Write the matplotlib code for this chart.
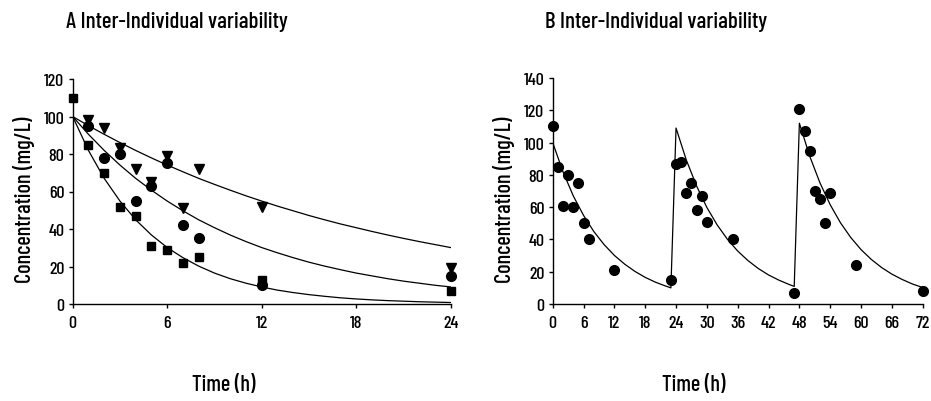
import matplotlib
matplotlib.use('Agg')
import matplotlib.pyplot as plt

# panel A: three individuals, single dose
timeA = [0, 1, 2, 3, 4, 5, 6, 7, 8, 12, 24]
conc_sq = [110, 85, 70, 52, 47, 31, 29, 22, 25, 13, 7]
# circles and triangles: no visible point at t=0 (hidden by the square)
timeA2 = [1, 2, 3, 4, 5, 6, 7, 8, 12, 24]
conc_ci = [95, 78, 80, 55, 63, 75, 42, 35, 10, 15]
conc_tr = [98, 94, 83, 72, 65, 79, 51, 72, 52, 19]

# fitted curves
fitA_t = list(range(0, 25))
fit_slow = [100, 95.1, 90.5, 86.1, 81.9, 77.9, 74.1, 70.5, 67.0, 63.8, 60.7, 57.7, 54.9,
            52.2, 49.7, 47.2, 44.9, 42.7, 40.7, 38.7, 36.8, 35.0, 33.3, 31.7, 30.1]
fit_mid = [100, 90.5, 81.9, 74.1, 67.0, 60.7, 54.9, 49.7, 44.9, 40.7, 36.8, 33.3, 30.1,
           27.3, 24.7, 22.3, 20.2, 18.3, 16.5, 15.0, 13.5, 12.2, 11.1, 10.0, 9.1]
fit_fast = [100, 81.9, 67.0, 54.9, 44.9, 36.8, 30.1, 24.7, 20.2, 16.5, 13.5, 11.1, 9.1,
            7.4, 6.1, 5.0, 4.1, 3.3, 2.7, 2.2, 1.8, 1.5, 1.2, 1.0, 0.8]

# panel B: repeated doses every 24 h
timeB = [0, 1, 2, 3, 4, 5, 6, 7, 12, 23, 24, 25, 26, 27, 28, 29, 30, 35,
         47, 48, 49, 50, 51, 52, 53, 54, 59, 72]
concB = [110, 85, 61, 80, 60, 75, 50, 40, 21, 15, 87, 88, 69, 75, 58, 67, 51, 40,
         7, 121, 107, 95, 70, 65, 50, 69, 24, 8]

fitB_t = [0, 2, 4, 6, 8, 10, 12, 14, 16, 18, 20, 22, 23,
          24, 26, 28, 30, 32, 34, 36, 38, 40, 42, 44, 46, 47,
          48, 50, 52, 54, 56, 58, 60, 62, 64, 66, 68, 70, 72]
fitB_c = [100, 81.9, 67.0, 54.9, 44.9, 36.8, 30.1, 24.7, 20.2, 16.5, 13.5, 11.1, 10.0,
          109, 89.2, 73.1, 59.8, 49.0, 40.1, 32.8, 26.9, 22.0, 18.0, 14.8, 12.1, 10.9,
          112, 91.7, 75.1, 61.5, 50.3, 41.2, 33.7, 27.6, 22.6, 18.5, 15.2, 12.4, 10.2]

plt.rcParams['font.family'] = ['Barlow Condensed', 'Liberation Sans Narrow', 'DejaVu Sans']
plt.rcParams['font.weight'] = 'medium'

fig = plt.figure(figsize=(9.31, 4.02), dpi=100)
axA = fig.add_axes([72.7/931, 97/402, 378/931, 225/402])
axB = fig.add_axes([552.7/931, 97/402, 370/931, 226/402])

for ax in (axA, axB):
  ax.spines['top'].set_visible(False)
  ax.spines['right'].set_visible(False)
  ax.spines['left'].set_linewidth(1.0)
  ax.spines['bottom'].set_linewidth(1.0)
  ax.tick_params(direction='out', length=3, width=1.0, labelsize=13, pad=3)

# panel A
for f in (fit_slow, fit_mid, fit_fast):
  axA.plot(fitA_t, f, color='black', lw=0.9)
axA.plot(timeA2, conc_tr, 'v', color='black', ms=7.5, clip_on=False)
axA.plot(timeA2, conc_ci, 'o', color='black', ms=7, clip_on=False)
axA.plot(timeA, conc_sq, 's', color='black', ms=6.3, clip_on=False)
axA.set_xlim(0, 24)
axA.set_ylim(0, 120)
axA.set_xticks([0, 6, 12, 18, 24])
axA.set_yticks(range(0, 121, 20))
axA.tick_params(axis='x', pad=5)

# panel B
axB.plot(fitB_t, fitB_c, color='black', lw=0.9)
axB.plot(timeB, concB, 'o', color='black', ms=7, clip_on=False)
axB.set_xlim(0, 72)
axB.set_ylim(0, 140)
axB.set_xticks(range(0, 73, 6))
axB.set_yticks(range(0, 141, 20))
axB.tick_params(axis='x', pad=5)

fig.text(177/931, 1 - 22/402, 'A Inter-Individual variability', fontsize=16.5, ha='center', va='center')
fig.text(656/931, 1 - 22/402, 'B Inter-Individual variability', fontsize=16.5, ha='center', va='center')
fig.text(224/931, 1 - 385/402, 'Time (h)', fontsize=16, ha='center', va='center')
fig.text(694/931, 1 - 385/402, 'Time (h)', fontsize=16, ha='center', va='center')
fig.text(24/931, 1 - 200/402, 'Concentration (mg/L)', fontsize=16, rotation=90, ha='center', va='center')
fig.text(504/931, 1 - 200/402, 'Concentration (mg/L)', fontsize=16, rotation=90, ha='center', va='center')

fig.savefig('out.png', dpi=100)
